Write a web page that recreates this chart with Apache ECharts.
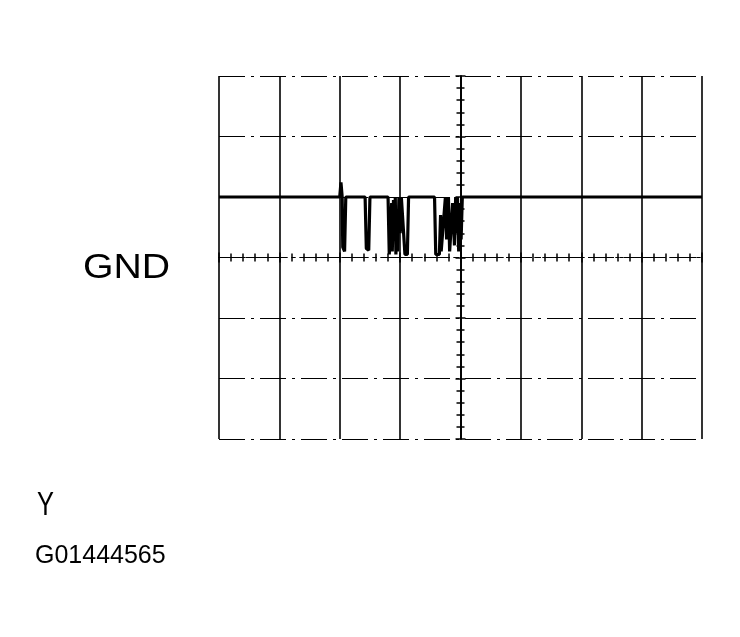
<!DOCTYPE html>
<html>
<head>
<meta charset="utf-8">
<script src="https://cdn.jsdelivr.net/npm/echarts@6/dist/echarts.min.js"></script>
<style>
html,body{margin:0;padding:0;background:#fff;}
#c{width:740px;height:637px;}
</style>
</head>
<body>
<div id="c"></div>
<script>
// Scope trace: time in divisions (centre = 0), level in divisions (GND = 0)
const traceX = [-4.00, -2.00, -1.98, -1.96, -1.95, -1.92, -1.90, -1.58, -1.56, -1.52, -1.50,
  -1.20, -1.18, -1.16, -1.14, -1.13, -1.11, -1.10, -1.08, -1.07, -1.05, -1.04, -1.02, -1.00,
  -0.98, -0.95, -0.92, -0.88, -0.86, -0.80, -0.78, -0.43, -0.41, -0.35, -0.33, -0.32, -0.30,
  -0.25, -0.23, -0.20, -0.18, -0.15, -0.13, -0.10, -0.08, -0.07, -0.05, -0.03, -0.01, 0.01,
  0.03, 0.05, 4.00];
const traceY = [1.00, 1.00, 1.24, 1.00, 0.17, 0.10, 1.00, 1.00, 0.15, 0.12, 1.00,
  1.00, 0.05, 0.05, 0.90, 0.10, 0.95, 0.30, 1.00, 0.05, 0.80, 0.10, 1.00, 0.40,
  1.00, 1.00, 0.05, 0.05, 1.00, 1.00, 1.00, 1.00, 0.05, 0.05, 0.70, 0.10, 0.10,
  1.00, 0.30, 1.00, 0.10, 0.10, 0.90, 0.20, 1.00, 0.40, 1.00, 0.10, 0.90, 0.30,
  1.00, 1.00, 1.00];
const xTicks = [-4, -3, -2, -1, 0, 1, 2, 3, 4];
const yTicks = [-3, -2, -1, 0, 1, 2, 3];
const labelGND = 'GND';
const labelY = 'Y';
const labelCode = 'G01444565';

const chart = echarts.init(document.getElementById('c'), null, {renderer: 'canvas'});
const tracePoints = traceX.map((x, i) => [x, traceY[i]]);
const xMin = xTicks[0], xMax = xTicks[xTicks.length - 1];
const yMin = yTicks[0], yMax = yTicks[yTicks.length - 1];

function centreAxis(pos, isMain, vertical) {
  return {
    type: 'value', min: vertical ? yMin : xMin, max: vertical ? yMax : xMax, interval: 1,
    position: pos,
    axisLine: {show: true, onZero: true, onZeroAxisIndex: 0,
      lineStyle: {color: '#000', width: vertical ? 1.5 : 1.2, type: vertical ? 'solid' : [14, 5, 3, 5]}},
    axisTick: {show: true, inside: false, length: 5, lineStyle: {color: '#000', width: 1.5}},
    minorTick: {show: true, splitNumber: 5, length: 4, lineStyle: {color: '#000', width: 1.5}},
    axisLabel: {show: false},
    splitLine: isMain ? {show: true, lineStyle: vertical
      ? {color: '#000', width: 1, type: [26, 6, 3, 6]}
      : {color: '#000', width: 1.6, type: 'solid'}} : {show: false}
  };
}

chart.setOption({
  animation: false,
  backgroundColor: '#fff',
  grid: {left: 219, right: 38, top: 76, bottom: 198, show: false},
  xAxis: [centreAxis('bottom', true, false), centreAxis('top', false, false)],
  yAxis: [centreAxis('left', true, true), centreAxis('right', false, true)],
  series: [{
    type: 'line', xAxisIndex: 0, yAxisIndex: 0, data: tracePoints,
    showSymbol: false, symbol: 'none',
    lineStyle: {color: '#000', width: 3.2},
    z: 5
  }],
  graphic: [
    {type: 'text', left: 83, top: 251, scaleX: 1.12, style: {text: labelGND, font: '35px "Liberation Sans", Arial, sans-serif', fill: '#000'}},
    {type: 'text', left: 37, top: 489, scaleX: 0.77, style: {text: labelY, font: '33px "Liberation Sans", Arial, sans-serif', fill: '#000'}},
    {type: 'text', left: 35, top: 544, style: {text: labelCode, font: '25px "Liberation Sans", Arial, sans-serif', fill: '#000'}}
  ]
});
</script>
</body>
</html>
